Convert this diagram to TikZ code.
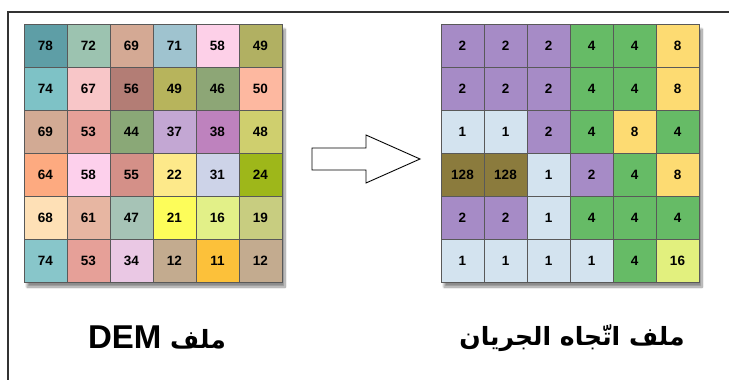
\documentclass[tikz,border=0pt]{standalone}
\usepackage{fontspec}
\setmainfont{Liberation Sans}
\newfontfamily\latinfont{Liberation Sans}
\newfontfamily\arabicfont[Script=Arabic, Scale=0.76]{DejaVu Sans}
\TeXXeTstate=1
\usetikzlibrary{shadows.blur}

\tikzset{
  cell/.style={draw=black!65, line width=0.6pt, minimum size=43pt, inner sep=0pt,
    font=\bfseries\fontsize{13.5}{13.5}\selectfont},
  gridshadow/.style={fill=white, blur shadow={shadow xshift=3pt, shadow yshift=-5pt,
    shadow blur steps=10, shadow opacity=45}},
  caption/.style={font=\bfseries\fontsize{33}{33}\selectfont, inner sep=0pt}
}

\begin{document}
\begin{tikzpicture}[x=1pt, y=-1pt]
  \useasboundingbox (0,0) rectangle (729,380);
  % frame
  \draw[line width=1.3pt, black!80] (8,380) -- (8,12) -- (729,12);

  % DEM grid
  \fill[gridshadow] (24,24) rectangle (282,282);
  \foreach \line [count=\r] in {
    {5E9EA6/78, 9CC3B0/72, D4A994/69, 9FC3CF/71, FDD0E8/58, B1B062/49},
    {7EC2C6/74, F8C6C8/67, B37D75/56, B7B45C/49, 8DA676/46, FDB8A0/50},
    {D2AA94/69, E6A098/53, 8AA877/44, C3A7D3/37, BE82BE/38, CFCF6E/48},
    {FDAA80/64, FDD0EC/58, D49088/55, FDE98A/22, CDD3E8/31, 9EB71A/24},
    {FEE0B6/68, E7B6A2/61, A6C3B6/47, FDFD5A/21, E2F088/16, C8CD80/19},
    {88C6CA/74, E6A098/53, EAC8E4/34, C3AB8F/12, FCC13A/11, C3AB8F/12}}
  {
    \foreach \hex/\val [count=\c] in \line {
      \definecolor{cellfill}{HTML}{\hex}
      \node[cell, fill=cellfill] (dem-\r-\c) at ({24+43*(\c-0.5)}, {24+43*(\r-0.5)}) {\val};
    }
  }

  % flow direction grid
  \fill[gridshadow] (441,24) rectangle (699,282);
  \foreach \line [count=\r] in {
    {A68BC6/2, A68BC6/2, A68BC6/2, 66BB66/4, 66BB66/4, FDDB72/8},
    {A68BC6/2, A68BC6/2, A68BC6/2, 66BB66/4, 66BB66/4, FDDB72/8},
    {D3E3EF/1, D3E3EF/1, A68BC6/2, 66BB66/4, FDDB72/8, 66BB66/4},
    {8B7B3D/128, 8B7B3D/128, D3E3EF/1, A68BC6/2, 66BB66/4, FDDB72/8},
    {A68BC6/2, A68BC6/2, D3E3EF/1, 66BB66/4, 66BB66/4, 66BB66/4},
    {D3E3EF/1, D3E3EF/1, D3E3EF/1, D3E3EF/1, 66BB66/4, E2F07E/16}}
  {
    \foreach \hex/\val [count=\c] in \line {
      \definecolor{cellfill}{HTML}{\hex}
      \node[cell, fill=cellfill] (flow-\r-\c) at ({441+43*(\c-0.5)}, {24+43*(\r-0.5)}) {\val};
    }
  }

  % block arrow
  \draw[line width=0.9pt, fill=white] (312,148) -- (366,148) -- (366,135)
    -- (420,159) -- (366,183) -- (366,170) -- (312,170) -- cycle;

  % captions
  \node[caption] (dem-label) at (157,338)
    {\arabicfont\beginR ملف \beginL\latinfont DEM\endL\endR};
  \node[caption] (flow-label) at (572,338)
    {\arabicfont\beginR ملف اتّجاه الجريان\endR};
\end{tikzpicture}
\end{document}
